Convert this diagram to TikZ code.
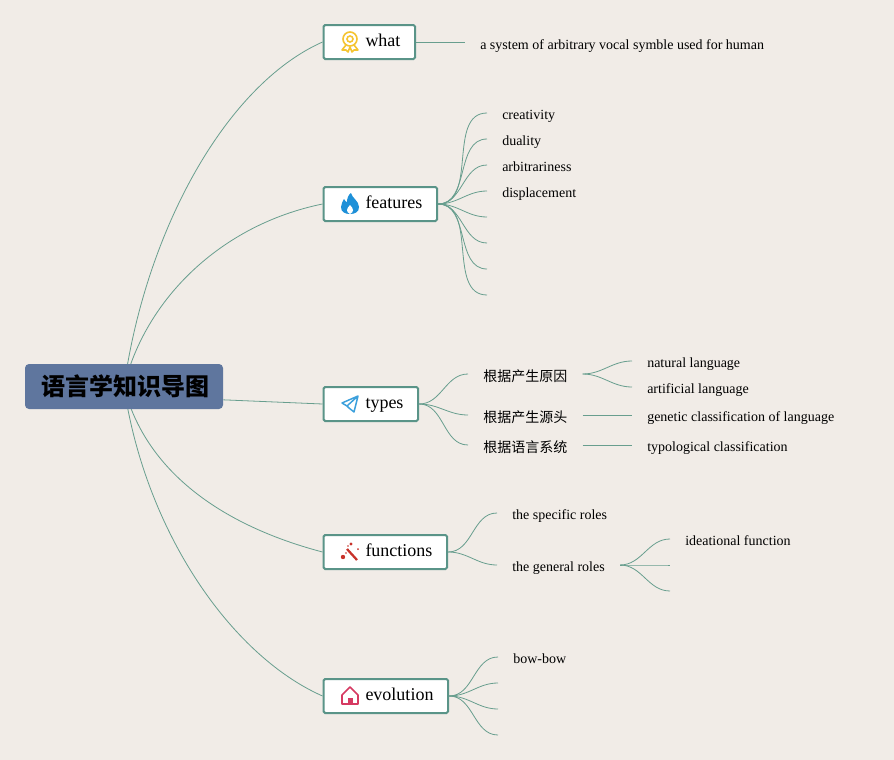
\documentclass[tikz,border=0pt]{standalone}
\usepackage{fontspec}
\setmainfont{Liberation Serif}
\newfontfamily\cjk{Noto Sans CJK SC}
\usetikzlibrary{backgrounds}
\definecolor{paper}{RGB}{241,236,231}
\definecolor{linkgreen}{RGB}{104,158,142}
\definecolor{boxgreen}{RGB}{90,148,136}
\definecolor{topicblue}{RGB}{95,118,158}
\definecolor{medalgold}{RGB}{245,196,48}
\definecolor{flameblue}{RGB}{30,144,216}
\definecolor{planeblue}{RGB}{60,160,220}
\definecolor{wandred}{RGB}{200,50,42}
\definecolor{homered}{RGB}{214,58,98}
\tikzset{
  medal/.pic={
    \draw[medalgold, line width=1.2pt] (0,-3) circle (7);
    \draw[medalgold, line width=1.2pt] (0,-3) circle (3);
    \draw[medalgold, line width=1.2pt, line join=round] (-4,3) -- (-8,8) -- (-4,8) -- (-2,10) -- (0,5) -- (2,10) -- (4,8) -- (8,8) -- (4,3);
  },
  flame/.pic={
    \fill[flameblue] (1,-11) .. controls (2,-6) and (9,-3) .. (9,3) .. controls (9,8) and (5,10) .. (0,10)
      .. controls (-5,10) and (-9,8) .. (-9,3) .. controls (-9,0) and (-7,-3) .. (-6,-5)
      .. controls (-5,-3) and (-4,-2) .. (-3,-2) .. controls (-3,-5) and (-2,-9) .. (1,-11) -- cycle;
    \fill[white] (0,10) .. controls (-4,8) and (-4,5) .. (0,1) .. controls (4,5) and (4,8) .. (0,10) -- cycle;
  },
  plane/.pic={
    \draw[planeblue, line width=1.1pt, line join=round] (8,-8) -- (-8,-1) -- (-3,2) -- (8,-8) -- (4,8) -- (-1,4) -- (-3,2);
  },
  wand/.pic={
    \draw[wandred, line width=1.7pt] (-3,-3) -- (7,8);
    \fill[wandred] (-7,5) circle (2.2) (1,-8) circle (1.7) (8,-3) circle (1) (-2,-6) circle (.8) (-4,1) circle (.8);
  },
  home/.pic={
    \draw[homered, line width=1.2pt, line join=round] (-8,-1) -- (0,-9) -- (8,-1) -- (8,8) -- (-8,8) -- cycle;
    \fill[homered] (-2.5,8) rectangle (2.5,2);
  }
}
\begin{document}
\begin{tikzpicture}[
  x=0.75pt, y=-0.75pt,
  topic/.style={fill=topicblue, rounded corners=3pt, minimum width=148.5pt, minimum height=33.75pt,
                inner sep=0pt, font=\cjk\bfseries\fontsize{18pt}{20pt}\selectfont},
  branch/.style={draw=boxgreen, line width=1.5pt, fill=white, rounded corners=1.2pt, anchor=west,
                 minimum height=25.5pt, inner sep=0pt, text height=10.5pt, text depth=3.7pt,
                 font=\fontsize{13.5pt}{15pt}\selectfont},
  leaf/.style={anchor=west, inner xsep=11.25pt, inner ysep=0pt, text height=10.5pt, text depth=1.5pt,
               font=\fontsize{10.5pt}{12pt}\selectfont},
  lowleaf/.style={leaf, text height=12pt},
  link/.style={draw=linkgreen, line width=.6pt},
  fan/.style={out=0, in=180}
]
\node[topic] (root) at (124,386.5) {\raisebox{-1.5pt}{\hspace*{2pt}语言学知识导图}};

\node[branch] (what)  at (322.5,42)  {\hspace*{31.5pt}what\hspace*{11pt}};
\node[branch] (feat)  at (322.5,204)   {\hspace*{31.5pt}features\hspace*{11pt}};
\node[branch] (types) at (322.5,404)   {\hspace*{31.5pt}types\hspace*{11pt}};
\node[branch] (func)  at (322.5,552)   {\hspace*{31.5pt}functions\hspace*{11pt}};
\node[branch] (evol)  at (322.5,696)   {\hspace*{31.5pt}evolution\hspace*{11pt}};

\pic at (350,42)  {medal};
\pic at (350,204) {flame};
\pic at (350,404) {plane};
\pic at (350,552) {wand};
\pic at (350,696) {home};

\node[lowleaf] (system) at (465,42) {a system of arbitrary vocal symble used for human};

\node[leaf] (creat) at (487,113) {creativity};
\node[leaf] (dual)  at (487,139) {duality};
\node[leaf] (arbi)  at (487,165) {arbitrariness};
\node[leaf] (disp)  at (487,191) {displacement};
\coordinate (feat5) at (487,217);
\coordinate (feat6) at (487,243);
\coordinate (feat7) at (487,269);
\coordinate (feat8) at (487,295);

\node[lowleaf] (cause)  at (468,374) {\cjk 根据产生原因};
\node[lowleaf] (source) at (468,415) {\cjk 根据产生源头};
\node[lowleaf] (system2) at (468,445) {\cjk 根据语言系统};
\node[leaf] (natural) at (632,361) {natural language};
\node[leaf] (artif)   at (632,387) {artificial language};
\node[leaf] (genet)   at (632,415) {genetic classification of language};
\node[leaf] (typol)   at (632,445) {typological classification};

\node[leaf] (spec)  at (497,513) {the specific roles};
\node[leaf] (gener) at (497,565) {the general roles};
\node[leaf] (ideat) at (670,539) {ideational function};
\coordinate (gener2) at (670,565);
\coordinate (gener3) at (670,591);

\node[leaf] (bow)   at (498,657) {bow-bow};
\coordinate (evol2) at (498,683);
\coordinate (evol3) at (498,709);
\coordinate (evol4) at (498,735);

\begin{scope}[on background layer]
\fill[paper] (0,0) rectangle (894,760);
\draw[link] (root.center) .. controls (146,230) and (226,85) .. (what.west);
\draw[link] (root.center) .. controls (145,300) and (220,225) .. (feat.west);
\draw[link] ([yshift=-10pt]root.east) -- (types.west);
\draw[link] (root.center) .. controls (145,470) and (220,525) .. (func.west);
\draw[link] (root.center) .. controls (145,530) and (230,655) .. (evol.west);
\draw[link] (what.east) -- (system.west);
\foreach \dst in {creat.west,dual.west,arbi.west,disp.west,feat5,feat6,feat7,feat8}
  \draw[link] (feat.east) to[fan] (\dst);
\foreach \dst in {cause,source,system2}
  \draw[link] (types.east) to[fan] (\dst.west);
\foreach \dst in {natural,artif}
  \draw[link] (cause.east) to[fan] (\dst.west);
\draw[link] (source.east) -- (genet.west);
\draw[link] (system2.east) -- (typol.west);
\foreach \dst in {spec,gener}
  \draw[link] (func.east) to[fan] (\dst.west);
\foreach \dst in {ideat.west,gener2,gener3}
  \draw[link] (gener.east) to[fan] (\dst);
\foreach \dst in {bow.west,evol2,evol3,evol4}
  \draw[link] (evol.east) to[fan] (\dst);
\end{scope}
\end{tikzpicture}
\end{document}
